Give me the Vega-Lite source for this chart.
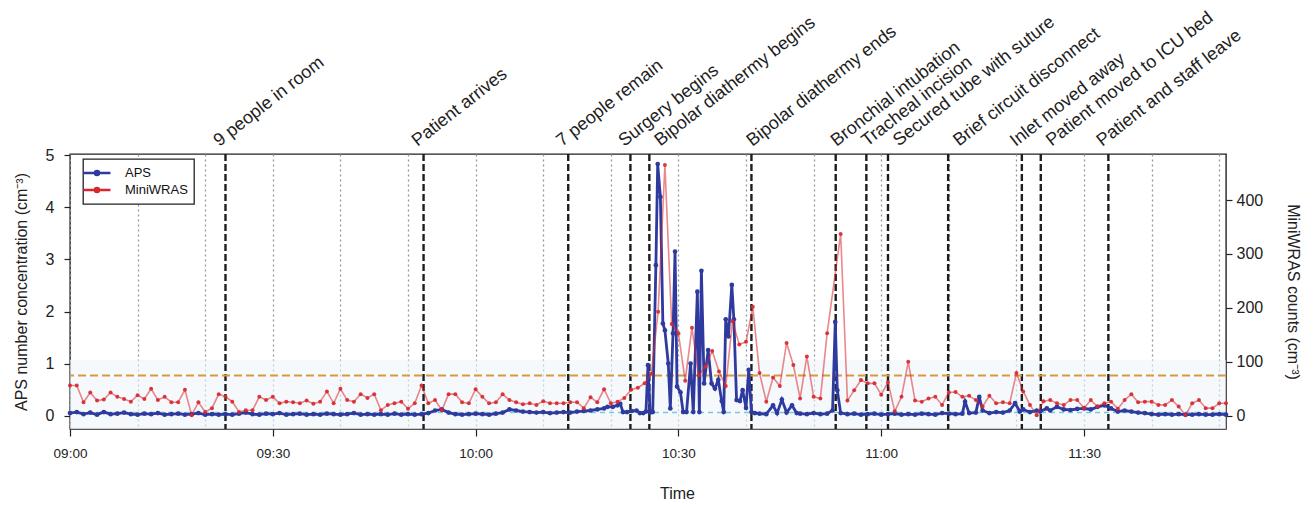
{
  "$schema": "https://vega.github.io/schema/vega-lite/v6.json",
  "width": 1156,
  "height": 275,
  "autosize": {"type": "none"},
  "padding": {"left": 70, "top": 154, "right": 87, "bottom": 76},
  "background": "white",
  "config": {
    "font": "Liberation Sans",
    "view": {"stroke": "#222", "strokeWidth": 1.4},
    "legend": {
      "orient": "none", "legendX": 13, "legendY": 5, "direction": "vertical",
      "fillColor": "#ffffff", "strokeColor": "#222", "strokeWidth": 1.3, "padding": 6,
      "labelFont": "Liberation Sans", "labelFontSize": 13, "labelColor": "#111",
      "symbolType": "M-2,0L2,0M-0.3,0A0.3,0.3 0 1,1 0.3,0A0.3,0.3 0 1,1 -0.3,0",
      "symbolSize": 182, "symbolStrokeWidth": 2.5, "symbolOpacity": 1,
      "rowPadding": 1, "labelOffset": 20
    }
  },
  "datasets": {
    "evt": [
      {"t": "2020-01-01T09:23:00Z", "label": "9 people in room"},
      {"t": "2020-01-01T09:52:18Z", "label": "Patient arrives"},
      {"t": "2020-01-01T10:13:42Z", "label": "7 people remain"},
      {"t": "2020-01-01T10:22:54Z", "label": "Surgery begins"},
      {"t": "2020-01-01T10:25:42Z", "label": "Bipolar diathermy begins"},
      {"t": "2020-01-01T10:40:48Z", "label": "Bipolar diathermy ends"},
      {"t": "2020-01-01T10:53:16Z", "label": "Bronchial intubation"},
      {"t": "2020-01-01T10:57:48Z", "label": "Tracheal incision"},
      {"t": "2020-01-01T11:01:00Z", "label": "Secured tube with suture"},
      {"t": "2020-01-01T11:09:54Z", "label": "Brief circuit disconnect"},
      {"t": "2020-01-01T11:20:48Z", "label": "Inlet moved away"},
      {"t": "2020-01-01T11:23:36Z", "label": "Patient moved to ICU bed"},
      {"t": "2020-01-01T11:33:36Z", "label": "Patient and staff leave"}
    ],
    "refs": [
      {"kind": "band", "lo": -0.255, "hi": 1.07},
      {"kind": "threshold", "lo": 0.77, "hi": 0.77},
      {"kind": "baseline", "lo": 0.06, "hi": 0.06}
    ],
    "aps": [
      {"t": "2020-01-01T09:00:00Z", "v": 0.05}, {"t": "2020-01-01T09:01:00Z", "v": 0.07}, {"t": "2020-01-01T09:02:00Z", "v": 0.03}, {"t": "2020-01-01T09:03:00Z", "v": 0.06},
      {"t": "2020-01-01T09:04:00Z", "v": 0.02}, {"t": "2020-01-01T09:05:00Z", "v": 0.07}, {"t": "2020-01-01T09:06:00Z", "v": 0.03}, {"t": "2020-01-01T09:07:00Z", "v": 0.04},
      {"t": "2020-01-01T09:08:00Z", "v": 0.06}, {"t": "2020-01-01T09:09:00Z", "v": 0.03}, {"t": "2020-01-01T09:10:00Z", "v": 0.02}, {"t": "2020-01-01T09:11:00Z", "v": 0.04},
      {"t": "2020-01-01T09:12:00Z", "v": 0.03}, {"t": "2020-01-01T09:13:00Z", "v": 0.05}, {"t": "2020-01-01T09:14:00Z", "v": 0.02}, {"t": "2020-01-01T09:15:00Z", "v": 0.03},
      {"t": "2020-01-01T09:16:00Z", "v": 0.04}, {"t": "2020-01-01T09:17:00Z", "v": 0.02}, {"t": "2020-01-01T09:18:00Z", "v": 0.03}, {"t": "2020-01-01T09:19:00Z", "v": 0.05},
      {"t": "2020-01-01T09:20:00Z", "v": 0.02}, {"t": "2020-01-01T09:21:00Z", "v": 0.03}, {"t": "2020-01-01T09:22:00Z", "v": 0.02}, {"t": "2020-01-01T09:23:00Z", "v": 0.03},
      {"t": "2020-01-01T09:24:00Z", "v": 0.02}, {"t": "2020-01-01T09:25:00Z", "v": 0.04}, {"t": "2020-01-01T09:26:00Z", "v": 0.06}, {"t": "2020-01-01T09:27:00Z", "v": 0.03},
      {"t": "2020-01-01T09:28:00Z", "v": 0.02}, {"t": "2020-01-01T09:29:00Z", "v": 0.04}, {"t": "2020-01-01T09:30:00Z", "v": 0.03}, {"t": "2020-01-01T09:31:00Z", "v": 0.05},
      {"t": "2020-01-01T09:32:00Z", "v": 0.02}, {"t": "2020-01-01T09:33:00Z", "v": 0.03}, {"t": "2020-01-01T09:34:00Z", "v": 0.04}, {"t": "2020-01-01T09:35:00Z", "v": 0.02},
      {"t": "2020-01-01T09:36:00Z", "v": 0.03}, {"t": "2020-01-01T09:37:00Z", "v": 0.02}, {"t": "2020-01-01T09:38:00Z", "v": 0.04}, {"t": "2020-01-01T09:39:00Z", "v": 0.03},
      {"t": "2020-01-01T09:40:00Z", "v": 0.02}, {"t": "2020-01-01T09:41:00Z", "v": 0.03}, {"t": "2020-01-01T09:42:00Z", "v": 0.05}, {"t": "2020-01-01T09:43:00Z", "v": 0.02},
      {"t": "2020-01-01T09:44:00Z", "v": 0.03}, {"t": "2020-01-01T09:45:00Z", "v": 0.02}, {"t": "2020-01-01T09:46:00Z", "v": 0.03}, {"t": "2020-01-01T09:47:00Z", "v": 0.02},
      {"t": "2020-01-01T09:48:00Z", "v": 0.04}, {"t": "2020-01-01T09:49:00Z", "v": 0.02}, {"t": "2020-01-01T09:50:00Z", "v": 0.03}, {"t": "2020-01-01T09:51:00Z", "v": 0.02},
      {"t": "2020-01-01T09:52:00Z", "v": 0.03}, {"t": "2020-01-01T09:53:00Z", "v": 0.05}, {"t": "2020-01-01T09:54:00Z", "v": 0.10}, {"t": "2020-01-01T09:55:00Z", "v": 0.12},
      {"t": "2020-01-01T09:56:00Z", "v": 0.06}, {"t": "2020-01-01T09:57:00Z", "v": 0.03}, {"t": "2020-01-01T09:58:00Z", "v": 0.02}, {"t": "2020-01-01T09:59:00Z", "v": 0.03},
      {"t": "2020-01-01T10:00:00Z", "v": 0.04}, {"t": "2020-01-01T10:01:00Z", "v": 0.03}, {"t": "2020-01-01T10:02:00Z", "v": 0.02}, {"t": "2020-01-01T10:03:00Z", "v": 0.04},
      {"t": "2020-01-01T10:04:00Z", "v": 0.06}, {"t": "2020-01-01T10:05:00Z", "v": 0.12}, {"t": "2020-01-01T10:06:00Z", "v": 0.10}, {"t": "2020-01-01T10:07:00Z", "v": 0.08},
      {"t": "2020-01-01T10:08:00Z", "v": 0.07}, {"t": "2020-01-01T10:09:00Z", "v": 0.06}, {"t": "2020-01-01T10:10:00Z", "v": 0.07}, {"t": "2020-01-01T10:11:00Z", "v": 0.05},
      {"t": "2020-01-01T10:12:00Z", "v": 0.06}, {"t": "2020-01-01T10:13:00Z", "v": 0.07}, {"t": "2020-01-01T10:14:00Z", "v": 0.06}, {"t": "2020-01-01T10:15:00Z", "v": 0.08},
      {"t": "2020-01-01T10:16:00Z", "v": 0.09}, {"t": "2020-01-01T10:17:00Z", "v": 0.10}, {"t": "2020-01-01T10:18:00Z", "v": 0.12}, {"t": "2020-01-01T10:19:00Z", "v": 0.14},
      {"t": "2020-01-01T10:19:30Z", "v": 0.17}, {"t": "2020-01-01T10:20:18Z", "v": 0.17}, {"t": "2020-01-01T10:21:00Z", "v": 0.20}, {"t": "2020-01-01T10:21:24Z", "v": 0.23},
      {"t": "2020-01-01T10:21:48Z", "v": 0.07}, {"t": "2020-01-01T10:22:24Z", "v": 0.07}, {"t": "2020-01-01T10:23:06Z", "v": 0.09}, {"t": "2020-01-01T10:23:48Z", "v": 0.10},
      {"t": "2020-01-01T10:24:18Z", "v": 0.05}, {"t": "2020-01-01T10:24:48Z", "v": 0.05}, {"t": "2020-01-01T10:25:12Z", "v": 0.08}, {"t": "2020-01-01T10:25:30Z", "v": 0.97},
      {"t": "2020-01-01T10:25:48Z", "v": 0.06}, {"t": "2020-01-01T10:26:12Z", "v": 0.07}, {"t": "2020-01-01T10:26:40Z", "v": 2.89}, {"t": "2020-01-01T10:26:56Z", "v": 4.83},
      {"t": "2020-01-01T10:27:20Z", "v": 4.20}, {"t": "2020-01-01T10:27:42Z", "v": 1.77}, {"t": "2020-01-01T10:28:00Z", "v": 1.64}, {"t": "2020-01-01T10:28:30Z", "v": 1.00},
      {"t": "2020-01-01T10:28:48Z", "v": 0.14}, {"t": "2020-01-01T10:29:12Z", "v": 1.58}, {"t": "2020-01-01T10:29:30Z", "v": 3.15}, {"t": "2020-01-01T10:29:48Z", "v": 0.56},
      {"t": "2020-01-01T10:30:18Z", "v": 0.45}, {"t": "2020-01-01T10:30:42Z", "v": 0.07}, {"t": "2020-01-01T10:31:12Z", "v": 0.07}, {"t": "2020-01-01T10:31:48Z", "v": 1.00},
      {"t": "2020-01-01T10:32:12Z", "v": 0.07}, {"t": "2020-01-01T10:32:48Z", "v": 2.38}, {"t": "2020-01-01T10:33:06Z", "v": 0.07}, {"t": "2020-01-01T10:33:24Z", "v": 2.78},
      {"t": "2020-01-01T10:33:48Z", "v": 0.62}, {"t": "2020-01-01T10:34:24Z", "v": 1.26}, {"t": "2020-01-01T10:34:54Z", "v": 0.62}, {"t": "2020-01-01T10:35:24Z", "v": 0.52},
      {"t": "2020-01-01T10:35:54Z", "v": 0.69}, {"t": "2020-01-01T10:36:24Z", "v": 0.28}, {"t": "2020-01-01T10:36:42Z", "v": 0.07}, {"t": "2020-01-01T10:37:00Z", "v": 1.85},
      {"t": "2020-01-01T10:37:24Z", "v": 1.52}, {"t": "2020-01-01T10:37:54Z", "v": 2.51}, {"t": "2020-01-01T10:38:12Z", "v": 1.85}, {"t": "2020-01-01T10:38:36Z", "v": 0.30},
      {"t": "2020-01-01T10:39:06Z", "v": 0.28}, {"t": "2020-01-01T10:39:30Z", "v": 0.49}, {"t": "2020-01-01T10:40:00Z", "v": 0.15}, {"t": "2020-01-01T10:40:24Z", "v": 0.88},
      {"t": "2020-01-01T10:40:48Z", "v": 0.07}, {"t": "2020-01-01T10:41:18Z", "v": 0.05}, {"t": "2020-01-01T10:42:00Z", "v": 0.04}, {"t": "2020-01-01T10:43:00Z", "v": 0.03},
      {"t": "2020-01-01T10:44:00Z", "v": 0.20}, {"t": "2020-01-01T10:44:36Z", "v": 0.05}, {"t": "2020-01-01T10:45:18Z", "v": 0.31}, {"t": "2020-01-01T10:46:00Z", "v": 0.06},
      {"t": "2020-01-01T10:46:48Z", "v": 0.20}, {"t": "2020-01-01T10:47:30Z", "v": 0.05}, {"t": "2020-01-01T10:48:00Z", "v": 0.04}, {"t": "2020-01-01T10:49:00Z", "v": 0.03},
      {"t": "2020-01-01T10:50:00Z", "v": 0.05}, {"t": "2020-01-01T10:51:00Z", "v": 0.03}, {"t": "2020-01-01T10:52:00Z", "v": 0.04}, {"t": "2020-01-01T10:52:48Z", "v": 0.10},
      {"t": "2020-01-01T10:53:12Z", "v": 1.80}, {"t": "2020-01-01T10:53:30Z", "v": 0.49}, {"t": "2020-01-01T10:54:00Z", "v": 0.05}, {"t": "2020-01-01T10:55:00Z", "v": 0.03},
      {"t": "2020-01-01T10:56:00Z", "v": 0.04}, {"t": "2020-01-01T10:57:00Z", "v": 0.02}, {"t": "2020-01-01T10:58:00Z", "v": 0.03}, {"t": "2020-01-01T10:59:00Z", "v": 0.04},
      {"t": "2020-01-01T11:00:00Z", "v": 0.02}, {"t": "2020-01-01T11:01:00Z", "v": 0.03}, {"t": "2020-01-01T11:02:00Z", "v": 0.04}, {"t": "2020-01-01T11:03:00Z", "v": 0.02},
      {"t": "2020-01-01T11:04:00Z", "v": 0.03}, {"t": "2020-01-01T11:05:00Z", "v": 0.02}, {"t": "2020-01-01T11:06:00Z", "v": 0.04}, {"t": "2020-01-01T11:07:00Z", "v": 0.03},
      {"t": "2020-01-01T11:08:00Z", "v": 0.02}, {"t": "2020-01-01T11:09:00Z", "v": 0.05}, {"t": "2020-01-01T11:10:00Z", "v": 0.04}, {"t": "2020-01-01T11:11:00Z", "v": 0.03},
      {"t": "2020-01-01T11:12:00Z", "v": 0.04}, {"t": "2020-01-01T11:12:24Z", "v": 0.27}, {"t": "2020-01-01T11:13:00Z", "v": 0.05}, {"t": "2020-01-01T11:14:00Z", "v": 0.06},
      {"t": "2020-01-01T11:14:30Z", "v": 0.36}, {"t": "2020-01-01T11:15:00Z", "v": 0.10}, {"t": "2020-01-01T11:16:00Z", "v": 0.05}, {"t": "2020-01-01T11:17:00Z", "v": 0.07},
      {"t": "2020-01-01T11:18:00Z", "v": 0.06}, {"t": "2020-01-01T11:19:00Z", "v": 0.10}, {"t": "2020-01-01T11:19:48Z", "v": 0.24}, {"t": "2020-01-01T11:20:30Z", "v": 0.08},
      {"t": "2020-01-01T11:21:00Z", "v": 0.12}, {"t": "2020-01-01T11:22:00Z", "v": 0.07}, {"t": "2020-01-01T11:23:00Z", "v": 0.10}, {"t": "2020-01-01T11:23:30Z", "v": 0.08},
      {"t": "2020-01-01T11:24:30Z", "v": 0.14}, {"t": "2020-01-01T11:25:00Z", "v": 0.10}, {"t": "2020-01-01T11:26:00Z", "v": 0.17}, {"t": "2020-01-01T11:27:00Z", "v": 0.12},
      {"t": "2020-01-01T11:28:00Z", "v": 0.11}, {"t": "2020-01-01T11:29:00Z", "v": 0.13}, {"t": "2020-01-01T11:30:00Z", "v": 0.14}, {"t": "2020-01-01T11:31:00Z", "v": 0.12},
      {"t": "2020-01-01T11:32:00Z", "v": 0.17}, {"t": "2020-01-01T11:33:00Z", "v": 0.20}, {"t": "2020-01-01T11:34:00Z", "v": 0.14}, {"t": "2020-01-01T11:35:00Z", "v": 0.08},
      {"t": "2020-01-01T11:36:00Z", "v": 0.10}, {"t": "2020-01-01T11:37:00Z", "v": 0.08}, {"t": "2020-01-01T11:38:00Z", "v": 0.06}, {"t": "2020-01-01T11:39:00Z", "v": 0.05},
      {"t": "2020-01-01T11:40:00Z", "v": 0.03}, {"t": "2020-01-01T11:41:00Z", "v": 0.02}, {"t": "2020-01-01T11:42:00Z", "v": 0.03}, {"t": "2020-01-01T11:43:00Z", "v": 0.02},
      {"t": "2020-01-01T11:44:00Z", "v": 0.03}, {"t": "2020-01-01T11:45:00Z", "v": 0.02}, {"t": "2020-01-01T11:46:00Z", "v": 0.02}, {"t": "2020-01-01T11:47:00Z", "v": 0.03},
      {"t": "2020-01-01T11:48:00Z", "v": 0.02}, {"t": "2020-01-01T11:49:00Z", "v": 0.02}, {"t": "2020-01-01T11:50:00Z", "v": 0.03}, {"t": "2020-01-01T11:51:00Z", "v": 0.02}
    ],
    "wras": [
      {"t": "2020-01-01T09:00:00Z", "v": 56}, {"t": "2020-01-01T09:01:00Z", "v": 56}, {"t": "2020-01-01T09:02:00Z", "v": 25}, {"t": "2020-01-01T09:03:00Z", "v": 43},
      {"t": "2020-01-01T09:04:00Z", "v": 28}, {"t": "2020-01-01T09:05:00Z", "v": 30}, {"t": "2020-01-01T09:06:00Z", "v": 43}, {"t": "2020-01-01T09:07:00Z", "v": 35},
      {"t": "2020-01-01T09:08:00Z", "v": 31}, {"t": "2020-01-01T09:09:00Z", "v": 26}, {"t": "2020-01-01T09:10:00Z", "v": 38}, {"t": "2020-01-01T09:11:00Z", "v": 31},
      {"t": "2020-01-01T09:12:00Z", "v": 50}, {"t": "2020-01-01T09:13:00Z", "v": 29}, {"t": "2020-01-01T09:14:00Z", "v": 35}, {"t": "2020-01-01T09:15:00Z", "v": 25},
      {"t": "2020-01-01T09:16:00Z", "v": 25}, {"t": "2020-01-01T09:17:00Z", "v": 48}, {"t": "2020-01-01T09:18:00Z", "v": 1}, {"t": "2020-01-01T09:19:00Z", "v": 25},
      {"t": "2020-01-01T09:20:00Z", "v": 7}, {"t": "2020-01-01T09:21:00Z", "v": 14}, {"t": "2020-01-01T09:22:00Z", "v": 40}, {"t": "2020-01-01T09:23:00Z", "v": 35},
      {"t": "2020-01-01T09:24:00Z", "v": 26}, {"t": "2020-01-01T09:25:00Z", "v": 7}, {"t": "2020-01-01T09:26:00Z", "v": 10}, {"t": "2020-01-01T09:27:00Z", "v": 10},
      {"t": "2020-01-01T09:28:00Z", "v": 35}, {"t": "2020-01-01T09:29:00Z", "v": 29}, {"t": "2020-01-01T09:30:00Z", "v": 35}, {"t": "2020-01-01T09:31:00Z", "v": 23},
      {"t": "2020-01-01T09:32:00Z", "v": 26}, {"t": "2020-01-01T09:33:00Z", "v": 25}, {"t": "2020-01-01T09:34:00Z", "v": 23}, {"t": "2020-01-01T09:35:00Z", "v": 28},
      {"t": "2020-01-01T09:36:00Z", "v": 22}, {"t": "2020-01-01T09:37:00Z", "v": 26}, {"t": "2020-01-01T09:38:00Z", "v": 45}, {"t": "2020-01-01T09:39:00Z", "v": 23},
      {"t": "2020-01-01T09:40:00Z", "v": 50}, {"t": "2020-01-01T09:41:00Z", "v": 29}, {"t": "2020-01-01T09:42:00Z", "v": 26}, {"t": "2020-01-01T09:43:00Z", "v": 40},
      {"t": "2020-01-01T09:44:00Z", "v": 33}, {"t": "2020-01-01T09:45:00Z", "v": 40}, {"t": "2020-01-01T09:46:00Z", "v": 10}, {"t": "2020-01-01T09:47:00Z", "v": 20},
      {"t": "2020-01-01T09:48:00Z", "v": 23}, {"t": "2020-01-01T09:49:00Z", "v": 26}, {"t": "2020-01-01T09:50:00Z", "v": 13}, {"t": "2020-01-01T09:51:00Z", "v": 23},
      {"t": "2020-01-01T09:52:00Z", "v": 56}, {"t": "2020-01-01T09:53:00Z", "v": 23}, {"t": "2020-01-01T09:54:00Z", "v": 29}, {"t": "2020-01-01T09:55:00Z", "v": 10},
      {"t": "2020-01-01T09:56:00Z", "v": 40}, {"t": "2020-01-01T09:57:00Z", "v": 40}, {"t": "2020-01-01T09:58:00Z", "v": 25}, {"t": "2020-01-01T09:59:00Z", "v": 23},
      {"t": "2020-01-01T10:00:00Z", "v": 49}, {"t": "2020-01-01T10:01:00Z", "v": 35}, {"t": "2020-01-01T10:02:00Z", "v": 23}, {"t": "2020-01-01T10:03:00Z", "v": 25},
      {"t": "2020-01-01T10:04:00Z", "v": 40}, {"t": "2020-01-01T10:05:00Z", "v": 29}, {"t": "2020-01-01T10:06:00Z", "v": 25}, {"t": "2020-01-01T10:07:00Z", "v": 21},
      {"t": "2020-01-01T10:08:00Z", "v": 23}, {"t": "2020-01-01T10:09:00Z", "v": 20}, {"t": "2020-01-01T10:10:00Z", "v": 27}, {"t": "2020-01-01T10:11:00Z", "v": 23},
      {"t": "2020-01-01T10:12:00Z", "v": 23}, {"t": "2020-01-01T10:13:00Z", "v": 23}, {"t": "2020-01-01T10:14:00Z", "v": 25}, {"t": "2020-01-01T10:15:00Z", "v": 25},
      {"t": "2020-01-01T10:16:00Z", "v": 14}, {"t": "2020-01-01T10:17:00Z", "v": 34}, {"t": "2020-01-01T10:18:00Z", "v": 25}, {"t": "2020-01-01T10:19:00Z", "v": 49},
      {"t": "2020-01-01T10:20:00Z", "v": 23}, {"t": "2020-01-01T10:21:00Z", "v": 26}, {"t": "2020-01-01T10:22:00Z", "v": 33}, {"t": "2020-01-01T10:23:00Z", "v": 48},
      {"t": "2020-01-01T10:24:00Z", "v": 52}, {"t": "2020-01-01T10:25:00Z", "v": 60}, {"t": "2020-01-01T10:26:00Z", "v": 78}, {"t": "2020-01-01T10:27:00Z", "v": 193},
      {"t": "2020-01-01T10:28:00Z", "v": 465}, {"t": "2020-01-01T10:29:00Z", "v": 170}, {"t": "2020-01-01T10:30:00Z", "v": 153}, {"t": "2020-01-01T10:31:00Z", "v": 65},
      {"t": "2020-01-01T10:32:00Z", "v": 163}, {"t": "2020-01-01T10:33:00Z", "v": 75}, {"t": "2020-01-01T10:34:00Z", "v": 91}, {"t": "2020-01-01T10:35:00Z", "v": 120},
      {"t": "2020-01-01T10:36:00Z", "v": 82}, {"t": "2020-01-01T10:37:00Z", "v": 55}, {"t": "2020-01-01T10:38:00Z", "v": 175}, {"t": "2020-01-01T10:39:00Z", "v": 132},
      {"t": "2020-01-01T10:40:00Z", "v": 137}, {"t": "2020-01-01T10:41:00Z", "v": 202}, {"t": "2020-01-01T10:42:00Z", "v": 79}, {"t": "2020-01-01T10:43:00Z", "v": 26},
      {"t": "2020-01-01T10:44:00Z", "v": 71}, {"t": "2020-01-01T10:45:00Z", "v": 55}, {"t": "2020-01-01T10:46:00Z", "v": 135}, {"t": "2020-01-01T10:47:00Z", "v": 94},
      {"t": "2020-01-01T10:48:00Z", "v": 32}, {"t": "2020-01-01T10:49:00Z", "v": 110}, {"t": "2020-01-01T10:50:00Z", "v": 35}, {"t": "2020-01-01T10:51:00Z", "v": 32},
      {"t": "2020-01-01T10:52:00Z", "v": 153}, {"t": "2020-01-01T10:54:00Z", "v": 337}, {"t": "2020-01-01T10:55:00Z", "v": 28}, {"t": "2020-01-01T10:56:00Z", "v": 47},
      {"t": "2020-01-01T10:57:00Z", "v": 66}, {"t": "2020-01-01T10:58:00Z", "v": 60}, {"t": "2020-01-01T10:59:00Z", "v": 60}, {"t": "2020-01-01T11:00:00Z", "v": 39},
      {"t": "2020-01-01T11:01:00Z", "v": 62}, {"t": "2020-01-01T11:02:00Z", "v": 8}, {"t": "2020-01-01T11:03:00Z", "v": 35}, {"t": "2020-01-01T11:04:00Z", "v": 100},
      {"t": "2020-01-01T11:05:00Z", "v": 28}, {"t": "2020-01-01T11:06:00Z", "v": 26}, {"t": "2020-01-01T11:07:00Z", "v": 32}, {"t": "2020-01-01T11:08:00Z", "v": 35},
      {"t": "2020-01-01T11:09:00Z", "v": 20}, {"t": "2020-01-01T11:10:00Z", "v": 43}, {"t": "2020-01-01T11:11:00Z", "v": 44}, {"t": "2020-01-01T11:12:00Z", "v": 35},
      {"t": "2020-01-01T11:13:00Z", "v": 37}, {"t": "2020-01-01T11:14:00Z", "v": 29}, {"t": "2020-01-01T11:15:00Z", "v": 17}, {"t": "2020-01-01T11:16:00Z", "v": 37},
      {"t": "2020-01-01T11:17:00Z", "v": 23}, {"t": "2020-01-01T11:18:00Z", "v": 25}, {"t": "2020-01-01T11:19:00Z", "v": 23}, {"t": "2020-01-01T11:20:00Z", "v": 79},
      {"t": "2020-01-01T11:21:00Z", "v": 45}, {"t": "2020-01-01T11:22:00Z", "v": 20}, {"t": "2020-01-01T11:23:00Z", "v": 1}, {"t": "2020-01-01T11:24:00Z", "v": 27},
      {"t": "2020-01-01T11:25:00Z", "v": 29}, {"t": "2020-01-01T11:26:00Z", "v": 23}, {"t": "2020-01-01T11:27:00Z", "v": 20}, {"t": "2020-01-01T11:28:00Z", "v": 29},
      {"t": "2020-01-01T11:29:00Z", "v": 29}, {"t": "2020-01-01T11:30:00Z", "v": 14}, {"t": "2020-01-01T11:31:00Z", "v": 29}, {"t": "2020-01-01T11:32:00Z", "v": 17},
      {"t": "2020-01-01T11:33:00Z", "v": 23}, {"t": "2020-01-01T11:34:00Z", "v": 26}, {"t": "2020-01-01T11:35:00Z", "v": 13}, {"t": "2020-01-01T11:36:00Z", "v": 29},
      {"t": "2020-01-01T11:37:00Z", "v": 40}, {"t": "2020-01-01T11:38:00Z", "v": 25}, {"t": "2020-01-01T11:39:00Z", "v": 26}, {"t": "2020-01-01T11:40:00Z", "v": 26},
      {"t": "2020-01-01T11:41:00Z", "v": 20}, {"t": "2020-01-01T11:42:00Z", "v": 20}, {"t": "2020-01-01T11:43:00Z", "v": 29}, {"t": "2020-01-01T11:44:00Z", "v": 17},
      {"t": "2020-01-01T11:45:00Z", "v": 1}, {"t": "2020-01-01T11:46:00Z", "v": 23}, {"t": "2020-01-01T11:47:00Z", "v": 29}, {"t": "2020-01-01T11:48:00Z", "v": 14},
      {"t": "2020-01-01T11:49:00Z", "v": 14}, {"t": "2020-01-01T11:50:00Z", "v": 23}, {"t": "2020-01-01T11:51:00Z", "v": 23}
    ]
  },
  "layer": [
    {
      "layer": [
        {
          "data": {"name": "refs"},
          "transform": [{"filter": {"field": "kind", "equal": "band"}}],
          "mark": {"type": "rect", "color": "#eef5fa", "opacity": 0.6},
          "encoding": {
            "y": {"field": "hi", "type": "quantitative", "title": "APS number concentration (cm⁻³)", "scale": {"domain": [-0.255, 5.023], "nice": false, "zero": false}},
            "y2": {"field": "lo"}
          }
        },
        {
          "data": {"name": "evt"},
          "mark": {"type": "rule", "color": "#1e1e1e", "strokeWidth": 2.4, "strokeDash": [7, 3]},
          "encoding": {
            "x": {"field": "t", "type": "temporal", "title": "Time"}
          }
        },
        {
          "data": {"name": "refs"},
          "transform": [{"filter": {"field": "kind", "equal": "threshold"}}],
          "mark": {"type": "rule", "color": "#d99a3e", "strokeWidth": 2, "strokeDash": [8, 4]},
          "encoding": {
            "y": {"field": "hi", "type": "quantitative", "title": "APS number concentration (cm⁻³)", "scale": {"domain": [-0.255, 5.023], "nice": false, "zero": false}}
          }
        },
        {
          "data": {"name": "refs"},
          "transform": [{"filter": {"field": "kind", "equal": "baseline"}}],
          "mark": {"type": "rule", "color": "#7fc6da", "strokeWidth": 1.5, "strokeDash": [5, 4]},
          "encoding": {
            "y": {"field": "hi", "type": "quantitative", "title": "APS number concentration (cm⁻³)", "scale": {"domain": [-0.255, 5.023], "nice": false, "zero": false}}
          }
        },
        {
          "data": {"name": "aps"},
          "mark": {"type": "line", "strokeWidth": 2.8, "point": {"filled": true, "size": 22}},
          "encoding": {
            "x": {
              "field": "t", "type": "temporal", "title": "Time",
              "scale": {"type": "utc", "nice": false, "domain": [
                {"year": 2020, "month": 1, "date": 1, "hours": 9, "minutes": 0, "utc": true},
                {"year": 2020, "month": 1, "date": 1, "hours": 11, "minutes": 51, "utc": true}
              ]},
              "axis": {
                "values": [
                  {"year": 2020, "month": 1, "date": 1, "hours": 9, "minutes": 0, "utc": true},
                  {"year": 2020, "month": 1, "date": 1, "hours": 9, "minutes": 5, "utc": true},
                  {"year": 2020, "month": 1, "date": 1, "hours": 9, "minutes": 10, "utc": true},
                  {"year": 2020, "month": 1, "date": 1, "hours": 9, "minutes": 15, "utc": true},
                  {"year": 2020, "month": 1, "date": 1, "hours": 9, "minutes": 20, "utc": true},
                  {"year": 2020, "month": 1, "date": 1, "hours": 9, "minutes": 25, "utc": true},
                  {"year": 2020, "month": 1, "date": 1, "hours": 9, "minutes": 30, "utc": true},
                  {"year": 2020, "month": 1, "date": 1, "hours": 9, "minutes": 35, "utc": true},
                  {"year": 2020, "month": 1, "date": 1, "hours": 9, "minutes": 40, "utc": true},
                  {"year": 2020, "month": 1, "date": 1, "hours": 9, "minutes": 45, "utc": true},
                  {"year": 2020, "month": 1, "date": 1, "hours": 9, "minutes": 50, "utc": true},
                  {"year": 2020, "month": 1, "date": 1, "hours": 9, "minutes": 55, "utc": true},
                  {"year": 2020, "month": 1, "date": 1, "hours": 10, "minutes": 0, "utc": true},
                  {"year": 2020, "month": 1, "date": 1, "hours": 10, "minutes": 5, "utc": true},
                  {"year": 2020, "month": 1, "date": 1, "hours": 10, "minutes": 10, "utc": true},
                  {"year": 2020, "month": 1, "date": 1, "hours": 10, "minutes": 15, "utc": true},
                  {"year": 2020, "month": 1, "date": 1, "hours": 10, "minutes": 20, "utc": true},
                  {"year": 2020, "month": 1, "date": 1, "hours": 10, "minutes": 25, "utc": true},
                  {"year": 2020, "month": 1, "date": 1, "hours": 10, "minutes": 30, "utc": true},
                  {"year": 2020, "month": 1, "date": 1, "hours": 10, "minutes": 35, "utc": true},
                  {"year": 2020, "month": 1, "date": 1, "hours": 10, "minutes": 40, "utc": true},
                  {"year": 2020, "month": 1, "date": 1, "hours": 10, "minutes": 45, "utc": true},
                  {"year": 2020, "month": 1, "date": 1, "hours": 10, "minutes": 50, "utc": true},
                  {"year": 2020, "month": 1, "date": 1, "hours": 10, "minutes": 55, "utc": true},
                  {"year": 2020, "month": 1, "date": 1, "hours": 11, "minutes": 0, "utc": true},
                  {"year": 2020, "month": 1, "date": 1, "hours": 11, "minutes": 5, "utc": true},
                  {"year": 2020, "month": 1, "date": 1, "hours": 11, "minutes": 10, "utc": true},
                  {"year": 2020, "month": 1, "date": 1, "hours": 11, "minutes": 15, "utc": true},
                  {"year": 2020, "month": 1, "date": 1, "hours": 11, "minutes": 20, "utc": true},
                  {"year": 2020, "month": 1, "date": 1, "hours": 11, "minutes": 25, "utc": true},
                  {"year": 2020, "month": 1, "date": 1, "hours": 11, "minutes": 30, "utc": true},
                  {"year": 2020, "month": 1, "date": 1, "hours": 11, "minutes": 35, "utc": true},
                  {"year": 2020, "month": 1, "date": 1, "hours": 11, "minutes": 40, "utc": true},
                  {"year": 2020, "month": 1, "date": 1, "hours": 11, "minutes": 45, "utc": true},
                  {"year": 2020, "month": 1, "date": 1, "hours": 11, "minutes": 50, "utc": true}
                ],
                "grid": true, "gridDash": [2, 3], "gridColor": "#8e9a9d", "gridWidth": 1.3,
                "domain": false, "ticks": false,
                "labelExpr": "utcminutes(datum.value) % 30 == 0 ? utcFormat(datum.value, '%H:%M') : ''",
                "labelFlush": false, "labelOverlap": false,
                "labelFont": "Liberation Sans", "labelFontSize": 13.5, "labelColor": "#222", "labelPadding": 17,
                "titleFont": "Liberation Sans", "titleFontSize": 16, "titleFontWeight": "normal", "titleColor": "#222",
                "titleX": 607, "titleY": 56
              }
            },
            "y": {
              "field": "v", "type": "quantitative", "title": "APS number concentration (cm⁻³)",
              "scale": {"domain": [-0.255, 5.023], "nice": false, "zero": false},
              "axis": {
                "values": [0, 1, 2, 3, 4, 5], "grid": false, "domain": false,
                "tickSize": 6, "tickColor": "#222", "tickWidth": 1.2,
                "labelFont": "Liberation Sans", "labelFontSize": 16, "labelColor": "#222", "labelPadding": 10,
                "titleFont": "Liberation Sans", "titleFontSize": 16,
                "titleFontWeight": "normal", "titleColor": "#222", "titlePadding": 16
              }
            },
            "color": {
              "datum": "APS",
              "scale": {"domain": ["APS", "MiniWRAS"], "range": ["#2e3a9e", "#d8262c"]},
              "legend": {"title": null}
            }
          }
        },
        {
          "data": {"name": "evt"},
          "transform": [{"filter": {"field": "label", "oneOf": ["9 people in room", "Patient arrives", "7 people remain", "Surgery begins", "Inlet moved away", "Patient and staff leave"]}}],
          "mark": {"type": "text", "angle": 322, "align": "left", "baseline": "alphabetic", "font": "Liberation Sans", "fontSize": 18, "color": "#1e1e1e", "dx": -0.6, "dy": -9.2},
          "encoding": {
            "x": {"field": "t", "type": "temporal", "title": "Time"},
            "y": {"datum": 5.023, "type": "quantitative", "title": "APS number concentration (cm⁻³)", "scale": {"domain": [-0.255, 5.023], "nice": false, "zero": false}},
            "text": {"field": "label"}
          }
        },
        {
          "data": {"name": "evt"},
          "transform": [{"filter": {"field": "label", "oneOf": ["Bipolar diathermy ends", "Bronchial intubation", "Tracheal incision"]}}],
          "mark": {"type": "text", "angle": 322, "align": "left", "baseline": "alphabetic", "font": "Liberation Sans", "fontSize": 18, "color": "#1e1e1e", "dx": 5.0, "dy": -5.0},
          "encoding": {
            "x": {"field": "t", "type": "temporal", "title": "Time"},
            "y": {"datum": 5.023, "type": "quantitative", "title": "APS number concentration (cm⁻³)", "scale": {"domain": [-0.255, 5.023], "nice": false, "zero": false}},
            "text": {"field": "label"}
          }
        },
        {
          "data": {"name": "evt"},
          "transform": [{"filter": {"field": "label", "oneOf": ["Bipolar diathermy begins", "Secured tube with suture", "Brief circuit disconnect", "Patient moved to ICU bed"]}}],
          "mark": {"type": "text", "angle": 322, "align": "left", "baseline": "alphabetic", "font": "Liberation Sans", "fontSize": 18, "color": "#1e1e1e", "dx": 13.0, "dy": 1.0},
          "encoding": {
            "x": {"field": "t", "type": "temporal", "title": "Time"},
            "y": {"datum": 5.023, "type": "quantitative", "title": "APS number concentration (cm⁻³)", "scale": {"domain": [-0.255, 5.023], "nice": false, "zero": false}},
            "text": {"field": "label"}
          }
        }
      ]
    },
    {
      "layer": [
        {
          "data": {"name": "wras"},
          "mark": {"type": "line", "strokeWidth": 1.6, "strokeOpacity": 0.55, "point": {"filled": true, "size": 16, "opacity": 0.9}},
          "encoding": {
            "x": {
              "field": "t", "type": "temporal",
              "axis": {
                "orient": "bottom", "title": null, "labels": false, "grid": false, "domain": false,
                "ticks": true, "tickSize": 7, "tickColor": "#222", "tickWidth": 1.2,
                "values": [
                  {"year": 2020, "month": 1, "date": 1, "hours": 9, "minutes": 0, "utc": true},
                  {"year": 2020, "month": 1, "date": 1, "hours": 9, "minutes": 30, "utc": true},
                  {"year": 2020, "month": 1, "date": 1, "hours": 10, "minutes": 0, "utc": true},
                  {"year": 2020, "month": 1, "date": 1, "hours": 10, "minutes": 30, "utc": true},
                  {"year": 2020, "month": 1, "date": 1, "hours": 11, "minutes": 0, "utc": true},
                  {"year": 2020, "month": 1, "date": 1, "hours": 11, "minutes": 30, "utc": true}
                ]
              }
            },
            "y": {
              "field": "v", "type": "quantitative",
              "scale": {"domain": [-24.7, 485.5], "nice": false, "zero": false},
              "axis": {
                "orient": "right", "values": [0, 100, 200, 300, 400], "grid": false, "domain": false,
                "tickSize": 6, "tickColor": "#222", "tickWidth": 1.2,
                "labelFont": "Liberation Sans", "labelFontSize": 16, "labelColor": "#222", "labelPadding": 4,
                "title": "MiniWRAS counts (cm⁻³)", "titleFont": "Liberation Sans", "titleFontSize": 16,
                "titleFontWeight": "normal", "titleColor": "#222", "titlePadding": 22
              }
            },
            "color": {"datum": "MiniWRAS", "legend": {"title": null}}
          }
        }
      ]
    }
  ],
  "resolve": {"scale": {"y": "independent"}, "axis": {"x": "independent"}}
}
